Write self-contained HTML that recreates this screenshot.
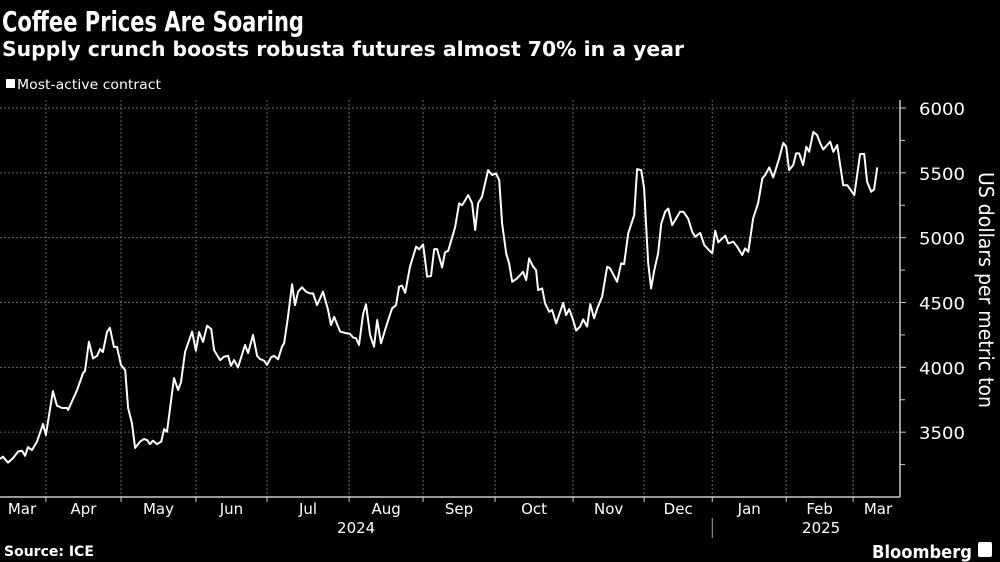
<!DOCTYPE html>
<html><head><meta charset="utf-8"><style>
html,body{margin:0;padding:0;background:#000;}
svg{display:block;}
text{font-family:"DejaVu Sans","Liberation Sans",sans-serif;fill:#fff;}
</style></head><body>
<svg id="chart" width="1000" height="562" viewBox="0 0 1000 562" xmlns="http://www.w3.org/2000/svg">
<rect width="1000" height="562" fill="#000"/>
<text x="2" y="31" font-size="28" font-weight="bold" textLength="302" lengthAdjust="spacingAndGlyphs">Coffee Prices Are Soaring</text>
<text x="2" y="56" font-size="20" font-weight="bold" textLength="682" lengthAdjust="spacingAndGlyphs">Supply crunch boosts robusta futures almost 70% in a year</text>
<g>
<rect x="6" y="79" width="9" height="9" fill="#fff"/>
<text x="17" y="89" font-size="13" textLength="144" lengthAdjust="spacingAndGlyphs">Most-active contract</text>
</g>
<g id="grid"></g>
<g id="axes"></g>
<path id="line" fill="none" stroke="#fff" stroke-width="2" stroke-linejoin="round"/>
<text transform="translate(979,290) rotate(90)" text-anchor="middle" font-size="20" textLength="236" lengthAdjust="spacingAndGlyphs">US dollars per metric ton</text>
<text x="4" y="556" font-size="14" font-weight="bold">Source: ICE</text>
<text x="872" y="558" font-size="18" font-weight="bold" textLength="100" lengthAdjust="spacingAndGlyphs">Bloomberg</text>
<rect x="978" y="542" width="14" height="15" rx="2" fill="#fff"/>
</svg>
<script>
// days since 2024-03-13
const days = [0,1.2,3.3,5.4,7.5,9.1,10.4,11.6,13.2,15.3,17.8,19.0,21.9,23.6,25.7,27.7,28.2,31.9,34.4,35.2,36.8,38.5,40.2,41.4,42.6,44.3,45.5,47.2,48.4,50.1,51.8,53.0,54.6,55.9,58.0,59.6,60.9,62.1,63.3,65.0,66.7,67.9,69.1,72.0,73.7,74.9,76.6,79.5,81.1,82.4,84.0,85.7,87.4,88.6,91.1,92.7,94.4,95.6,96.9,98.5,101.4,102.7,104.7,106.4,107.6,109.3,110.5,112.2,113.4,115.1,116.7,117.6,119.2,120.9,122.1,123.4,125.0,126.7,128.3,129.6,131.2,133.7,135.8,137.0,138.3,140.8,143.7,144.9,146.1,147.4,148.6,150.3,151.5,153.2,154.8,156.1,157.7,160.2,162.3,163.9,165.2,166.4,167.7,169.7,172.2,173.5,175.1,176.8,178.4,179.7,180.9,183.0,184.2,185.5,188.4,190.0,191.3,193.8,195.4,196.7,197.9,199.5,202.0,203.7,205.3,206.6,207.8,209.5,210.7,212.0,214.0,216.5,217.8,219.0,220.7,221.9,222.7,224.4,225.6,227.3,228.5,230.2,233.1,234.3,235.6,237.2,238.5,240.1,241.4,243.0,244.3,245.9,247.2,249.2,251.3,252.5,255.4,257.1,258.3,260.0,262.5,263.7,265.4,266.6,268.3,269.5,270.8,272.4,273.7,275.3,276.6,278.2,281.5,282.8,284.8,286.5,287.7,289.8,291.5,293.1,294.8,296.0,297.3,300.2,301.4,303.5,305.1,307.2,308.4,309.7,311.7,313.8,315.5,316.7,318.4,320.0,322.5,324.2,325.4,326.6,328.3,329.5,330.8,332.4,333.7,334.9,336.6,338.2,339.5,340.7,343.6,344.9,346.5,349.0,350.7,353.6,356.0,357.7,358.9,360.6,361.8,363.1];
const prices = [3293,3311,3265,3300,3350,3357,3318,3385,3362,3427,3563,3478,3817,3704,3686,3686,3671,3825,3956,3971,4197,4069,4089,4141,4118,4272,4305,4157,4159,4018,3979,3686,3571,3378,3427,3447,3439,3408,3434,3408,3427,3524,3503,3917,3825,3886,4120,4275,4128,4272,4195,4321,4296,4133,4056,4082,4089,4012,4056,3999,4172,4110,4249,4089,4064,4051,4018,4077,4089,4062,4159,4185,4390,4640,4480,4583,4617,4583,4570,4570,4480,4583,4442,4326,4390,4275,4262,4257,4231,4224,4172,4411,4486,4249,4159,4365,4185,4339,4455,4480,4622,4630,4575,4776,4930,4910,4948,4699,4704,4912,4912,4771,4887,4899,5084,5264,5251,5328,5264,5059,5264,5315,5521,5483,5496,5444,5110,4879,4802,4660,4686,4737,4673,4840,4776,4750,4596,4609,4493,4428,4442,4339,4498,4403,4449,4365,4283,4314,4370,4314,4488,4378,4455,4544,4776,4763,4660,4802,4796,5033,5174,5529,5521,5380,4802,4609,4750,4879,5110,5200,5225,5097,5200,5200,5148,5045,5007,5037,4943,4910,4879,5054,4964,5015,4956,4969,4930,4866,4917,4891,5148,5269,5457,5483,5542,5465,5611,5731,5701,5521,5560,5650,5650,5560,5701,5662,5816,5791,5727,5681,5740,5662,5714,5405,5405,5328,5645,5645,5431,5354,5373,5542];
const monthBounds = [19.0,50.1,81.1,110.5,144.5,175.1,204.9,237.2,266.6,294.8,325.4,353.1];
const monthLabels = ["Mar","Apr","May","Jun","Jul","Aug","Sep","Oct","Nov","Dec","Jan","Feb","Mar"];
const yTicks = [3500,4000,4500,5000,5500,6000];
const yMinorTicks = [3250,3750,4250,4750,5250,5750];
const yearLabels = ["2024","2025"];

const NS="http://www.w3.org/2000/svg";
const X0=0,X1=900,Y0=497,Y1=108, D0=0, DMAX=372.5, V0=3000, V1=6000;
const xs=d=>X0+(d-D0)/(DMAX-D0)*(X1-X0);
const ys=v=>Y0-(v-V0)/(V1-V0)*(Y0-Y1);
function mk(tag,attrs,parent,txt){const e=document.createElementNS(NS,tag);for(const k in attrs)e.setAttribute(k,attrs[k]);if(txt!==undefined)e.textContent=txt;parent.appendChild(e);return e;}
const grid=document.getElementById('grid'), axes=document.getElementById('axes');
yTicks.forEach(v=>{
  const l=mk('line',{x1:X0,x2:X1,y1:ys(v),y2:ys(v),stroke:'#666','stroke-width':1,'stroke-dasharray':'2,2'},grid);
  
  
  const t=mk('line',{x1:X1,x2:X1+6,y1:ys(v),y2:ys(v),stroke:'#ccc','stroke-width':1},axes);
  
  
  const tx=mk('text',{x:X1+19,y:ys(v)+7,'font-size':17,textLength:46,lengthAdjust:'spacingAndGlyphs'},axes,String(v));
  
  
});
yMinorTicks.forEach(v=>{
  const t=mk('line',{x1:X1,x2:X1+5,y1:ys(v),y2:ys(v),stroke:'#ccc','stroke-width':1},axes);
  
  
});
monthBounds.forEach(d=>{
  const l=mk('line',{x1:xs(d),x2:xs(d),y1:100,y2:Y0,stroke:'#666','stroke-width':1,'stroke-dasharray':'2,2'},grid);
  
  
  const t=mk('line',{x1:xs(d),x2:xs(d),y1:Y0,y2:Y0+5,stroke:'#ccc','stroke-width':1},axes);
  
  
});
const edges=[D0].concat(monthBounds,[DMAX-10]);
monthLabels.forEach((m,i)=>{
  let c=(xs(edges[i])+xs(edges[i+1]))/2;
  if(i===0)c=22;
  if(i===monthLabels.length-1)c=878;
  const t=mk('text',{x:c,y:514,'font-size':15,'text-anchor':'middle'},axes,m);
  
  
});
const y1=mk('text',{x:(xs(D0)+xs(monthBounds[9]))/2,y:533,'font-size':15,'text-anchor':'middle'},axes,yearLabels[0]);


const y2=mk('text',{x:(xs(monthBounds[9])+X1+30)/2,y:533,'font-size':15,'text-anchor':'middle'},axes,yearLabels[1]);


const sep=mk('line',{x1:xs(monthBounds[9]),x2:xs(monthBounds[9]),y1:518,y2:538,stroke:'#aaa','stroke-width':1},axes);


const xa=mk('line',{x1:X0,x2:X1,y1:Y0,y2:Y0,stroke:'#ccc','stroke-width':1.5},axes);


const ya=mk('line',{x1:X1,x2:X1,y1:100,y2:Y0,stroke:'#ccc','stroke-width':1.5},axes);


document.getElementById('line').setAttribute('d',days.map((d,i)=>(i?'L':'M')+xs(d).toFixed(1)+','+ys(prices[i]).toFixed(1)).join(''));
</script>
</body></html>
